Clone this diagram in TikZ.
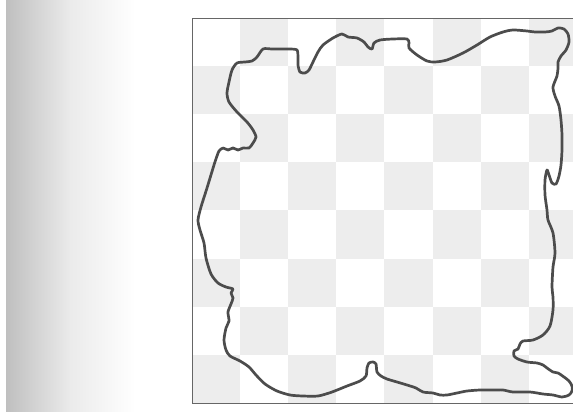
\documentclass[tikz,border=0pt]{standalone}
\usepackage{tikz}
\tikzset{
    board frame/.style={draw=black!60, line width=0.9pt},
    dark square/.style={fill=black!7},
    outline/.style={draw=black!70, line width=2.7pt, line join=round,
        smooth cycle, tension=0.45},
}
\begin{document}
\begin{tikzpicture}[x=1pt, y=-1pt]
    \useasboundingbox (0,0) rectangle (573,412);
    \clip (0,0) rectangle (573,412);
    % scanner shadow on the left
    \shade[left color=black!25, right color=black!8] (6,0) rectangle (70,412);
    \shade[left color=black!8, right color=white] (70,0) rectangle (135,412);

    % the 8x8 board
    \foreach \row in {0,...,7}{
        \foreach \col in {0,...,7}{
            \pgfmathtruncatemacro{\parity}{mod(\row+\col,2)}
            \ifnum\parity=1
                \fill[dark square] (192+48.1*\col,18+48.1*\row) rectangle ++(48.1,48.1);
            \fi
        }
    }
    \draw[board frame] (192,18) rectangle (577,403);

    % the ragged closed curve
    \draw[outline] plot coordinates {
        (201,207) (207,188) (214,165) (217,156) (219,151) (223,148) (228,150)
        (233,148) (238,150) (243,148) (249,148) (253,143) (256,137) (253,130)
        (247,122) (237,112) (229,102) (227,93) (229,82) (232,70) (237,63)
        (245,62) (252,61) (257,57) (263,49) (272,49) (281,49) (290,49)
        (297,50) (298,57) (298,65) (300,72) (305,73) (309,70) (313,62)
        (318,52) (323,45) (333,38) (342,34) (348,37) (357,38) (364,42)
        (368,47) (372,49) (374,43) (380,40) (393,39) (407,39) (409,43)
        (409,48) (417,55) (427,61) (435,62) (447,60) (463,53) (477,45)
        (490,37) (503,32) (513,30) (527,31) (535,32) (545,32) (552,31)
        (558,28) (564,29) (568,34) (569,42) (566,50) (561,56) (558,62)
        (558,68) (557,76) (553,87) (555,96) (559,106) (561,120) (562,135)
        (562,150) (561,165) (559,176) (556,184) (552,183) (549,175) (547,170)
        (545,180) (545,195) (547,210) (548,220) (553,233) (555,253) (553,267)
        (552,287) (553,297) (553,310) (550,326) (543,335) (533,340) (523,341)
        (520,344) (518,349) (514,351) (514,356) (518,359) (527,362) (537,363)
        (543,365) (547,368) (553,372) (558,373) (564,377) (569,381) (572,386)
        (572,391) (569,395) (562,397) (553,395) (543,394) (530,392) (513,392)
        (503,390) (493,390) (480,390) (467,391) (457,393) (447,395) (440,395)
        (433,393) (423,392) (416,388) (407,385) (397,382) (387,379) (381,376)
        (377,372) (376,364) (373,362) (369,363) (367,368) (366,376) (360,381)
        (347,386) (332,392) (318,396) (303,396) (290,395) (277,391) (265,384)
        (256,375) (249,367) (240,361) (230,356) (226,350) (224,340) (226,328)
        (229,321) (228,312) (231,304) (233,298) (231,293) (233,289) (226,287)
        (218,283) (211,274) (206,258) (204,243) (200,230) (198,220)
    };
\end{tikzpicture}
\end{document}
